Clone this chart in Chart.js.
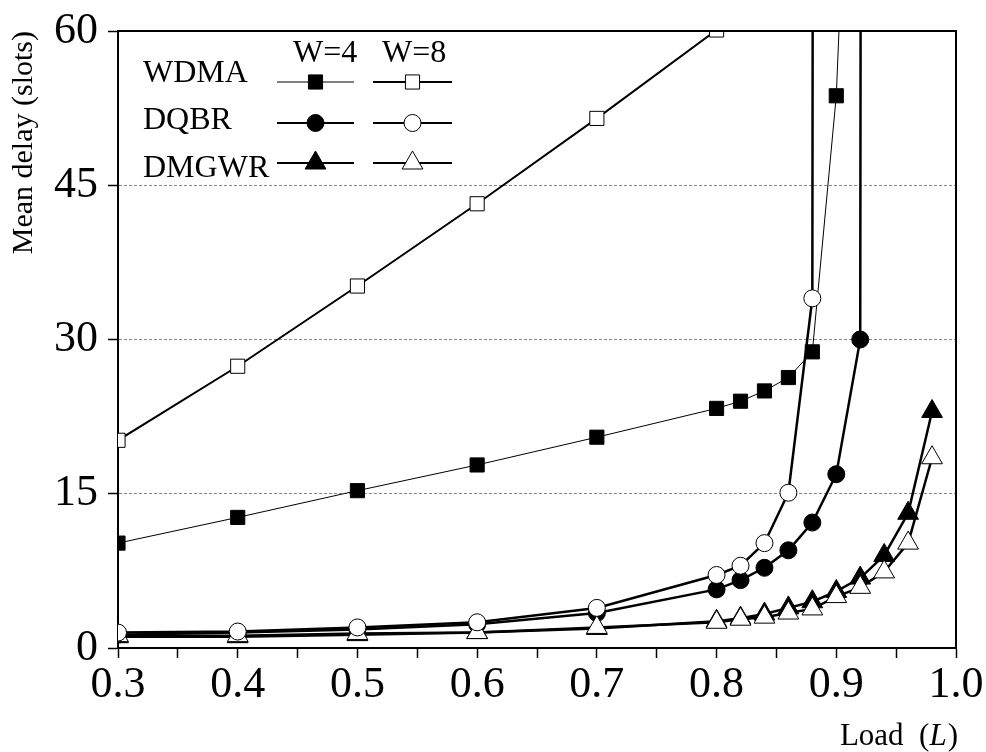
<!DOCTYPE html>
<html>
<head>
<meta charset="utf-8">
<title>Mean delay vs load</title>
<script src="https://cdn.jsdelivr.net/npm/chart.js@4/dist/chart.umd.min.js"></script>
<style>
  html, body { margin: 0; padding: 0; background: #fff; }
  #wrap { width: 986px; height: 752px; }
</style>
</head>
<body>
<div id="wrap"><canvas id="delayChart" width="986" height="752"></canvas></div>
<script>
// load values (x axis)
const loads = [0.3, 0.4, 0.5, 0.6, 0.7, 0.8, 0.82, 0.84, 0.86, 0.88, 0.9, 0.92, 0.94, 0.96, 0.98];

// mean delay (slots), W=4
const wdma4  = [10.2, 12.7, 15.3, 17.8, 20.5, 23.3, 24.0, 25.0, 26.3, 28.8, 53.7, 110];
const dqbr4  = [1.3, 1.5, 1.8, 2.3, 3.4, 5.7, 6.6, 7.8, 9.5, 12.2, 16.9, 30.0, 2000];
const dmgwr4 = [1.1, 1.1, 1.3, 1.5, 1.9, 2.6, 2.9, 3.3, 3.9, 4.5, 5.5, 6.8, 9.0, 13.1, 23.0];

// mean delay (slots), W=8
const wdma8  = [20.2, 27.4, 35.2, 43.2, 51.5, 60.1];
const dqbr8  = [1.5, 1.6, 2.0, 2.5, 3.9, 7.1, 8.0, 10.2, 15.1, 34.0, 2000];
const dmgwr8 = [1.2, 1.2, 1.4, 1.5, 2.0, 2.5, 2.8, 3.0, 3.4, 3.8, 5.0, 5.9, 7.4, 10.2, 18.5];

const schemes = ["WDMA", "DQBR", "DMGWR"];
const windowLabels = ["W=4", "W=8"];
const yTicks = [0, 15, 30, 45, 60];

const SERIF = "'Liberation Serif', 'Times New Roman', serif";

function pts(vals) {
    return vals.map((v, i) => ({ x: loads[i], y: v }));
}

// marker look per scheme
const markerStyle = {
    WDMA:  { pointStyle: "rect",     radius: 10 },
    DQBR:  { pointStyle: "circle",   radius: 8.5 },
    DMGWR: { pointStyle: "triangle", radius: 12 }
};
const lineWidths = { WDMA: [1, 2], DQBR: [2.5, 2.5], DMGWR: [2.5, 2.5] };

function makeSet(name, w, vals) {
    const open = w === 1;
    return {
        label: name + " " + windowLabels[w],
        data: pts(vals),
        borderColor: "#000",
        borderWidth: lineWidths[name][w],
        pointStyle: markerStyle[name].pointStyle,
        pointRadius: markerStyle[name].radius,
        pointHoverRadius: markerStyle[name].radius,
        pointBackgroundColor: open ? "#fff" : "#000",
        pointBorderColor: "#000",
        pointBorderWidth: 1,
        fill: false,
        tension: 0
    };
}

// first dataset is painted last (on top)
const datasets = [
    makeSet("WDMA", 1, wdma8),
    makeSet("DQBR", 1, dqbr8),
    makeSet("DMGWR", 1, dmgwr8),
    makeSet("WDMA", 0, wdma4),
    makeSet("DQBR", 0, dqbr4),
    makeSet("DMGWR", 0, dmgwr4)
];

function drawMarker(ctx, style, r, open, x, y) {
    ctx.save();
    ctx.beginPath();
    if (style === "rect") {
        const h = r * Math.SQRT1_2;
        ctx.rect(x - h, y - h, 2 * h, 2 * h);
    } else if (style === "circle") {
        ctx.arc(x, y, r, 0, Math.PI * 2);
    } else {
        for (let k = 0; k < 3; k++) {
            const a = k * 2 * Math.PI / 3;
            const px = x + Math.sin(a) * r, py = y - Math.cos(a) * r;
            if (k === 0) ctx.moveTo(px, py); else ctx.lineTo(px, py);
        }
        ctx.closePath();
    }
    ctx.fillStyle = open ? "#fff" : "#000";
    ctx.fill();
    ctx.lineWidth = 1;
    ctx.strokeStyle = "#000";
    ctx.stroke();
    ctx.restore();
}

// frame, inner legend and x title with italic L
const extras = {
    id: "extras",
    afterDraw(chart) {
        const ctx = chart.ctx;
        const a = chart.chartArea;
        ctx.save();
        ctx.strokeStyle = "#000";
        ctx.lineWidth = 2;
        ctx.beginPath();
        ctx.moveTo(a.left, a.top);
        ctx.lineTo(a.right, a.top);
        ctx.lineTo(a.right, a.bottom);
        ctx.stroke();

        // legend
        ctx.fillStyle = "#000";
        ctx.font = "32px " + SERIF;
        ctx.textBaseline = "alphabetic";
        ctx.textAlign = "left";
        ctx.fillText(windowLabels[0], 293, 62);
        ctx.fillText(windowLabels[1], 382, 62);
        const lineY = [82, 123, 163];
        const textY = [82, 129, 177];
        const cols = [[277, 354], [373, 452]];
        schemes.forEach((name, i) => {
            ctx.fillText(name, 143, textY[i]);
            for (let w = 0; w < 2; w++) {
                ctx.beginPath();
                ctx.lineWidth = name === "WDMA" && w === 0 ? 1 : 2;
                ctx.moveTo(cols[w][0], lineY[i]);
                ctx.lineTo(cols[w][1], lineY[i]);
                ctx.stroke();
                const cx = (cols[w][0] + cols[w][1]) / 2;
                drawMarker(ctx, markerStyle[name].pointStyle, markerStyle[name].radius, w === 1, cx, lineY[i]);
            }
        });

        // x title: Load  (L)
        ctx.font = "31px " + SERIF;
        const p1 = "Load  (", p3 = ")";
        const w1 = ctx.measureText(p1).width;
        const w3 = ctx.measureText(p3).width;
        ctx.font = "italic 31px " + SERIF;
        const w2 = ctx.measureText("L").width;
        let x = 957 - (w1 + w2 + w3);
        ctx.font = "31px " + SERIF;
        ctx.fillText(p1, x, 745);
        ctx.font = "italic 31px " + SERIF;
        ctx.fillText("L", x + w1, 745);
        ctx.font = "31px " + SERIF;
        ctx.fillText(p3, x + w1 + w2 + 1, 745);
        ctx.restore();
    }
};

new Chart(document.getElementById("delayChart"), {
    type: "line",
    data: { datasets: datasets },
    options: {
        responsive: false,
        animation: false,
        layout: { padding: { left: 0, right: 30, top: 31, bottom: 0 } },
        plugins: { legend: { display: false }, tooltip: { enabled: false } },
        scales: {
            x: {
                type: "linear",
                min: 0.3,
                max: 1.0,
                afterFit: (s) => { s.height = 104; },
                ticks: {
                    stepSize: 0.05,
                    autoSkip: false,
                    maxRotation: 0,
                    padding: 1,
                    color: "#000",
                    font: { family: SERIF, size: 44 },
                    callback: (v) => Math.round(v * 20) % 2 === 0 ? v.toFixed(1) : ""
                },
                grid: {
                    drawOnChartArea: false,
                    tickLength: 10,
                    tickColor: "#000",
                    tickWidth: 1.5
                },
                border: { display: true, color: "#000", width: 2 }
            },
            y: {
                min: 0,
                max: 60,
                afterFit: (s) => { s.width = 118; },
                afterBuildTicks: (s) => { s.ticks = yTicks.map(v => ({ value: v })); },
                ticks: {
                    padding: 10,
                    color: "#000",
                    font: { family: SERIF, size: 44, lineHeight: 0.8 }
                },
                grid: {
                    color: (c) => (c.tick && c.tick.value > 0 && c.tick.value < 60) ? "#888" : "rgba(0,0,0,0)",
                    lineWidth: 1,
                    tickLength: 10,
                    tickColor: "#000",
                    tickWidth: 1.5,
                    tickBorderDash: []
                },
                border: { display: true, color: "#000", width: 2, dash: [3, 2] },
                title: {
                    display: true,
                    text: "Mean delay (slots)",
                    align: "end",
                    color: "#000",
                    font: { family: SERIF, size: 30 },
                    padding: { top: 6, bottom: 0 }
                }
            }
        }
    },
    plugins: [extras]
});
</script>
</body>
</html>
